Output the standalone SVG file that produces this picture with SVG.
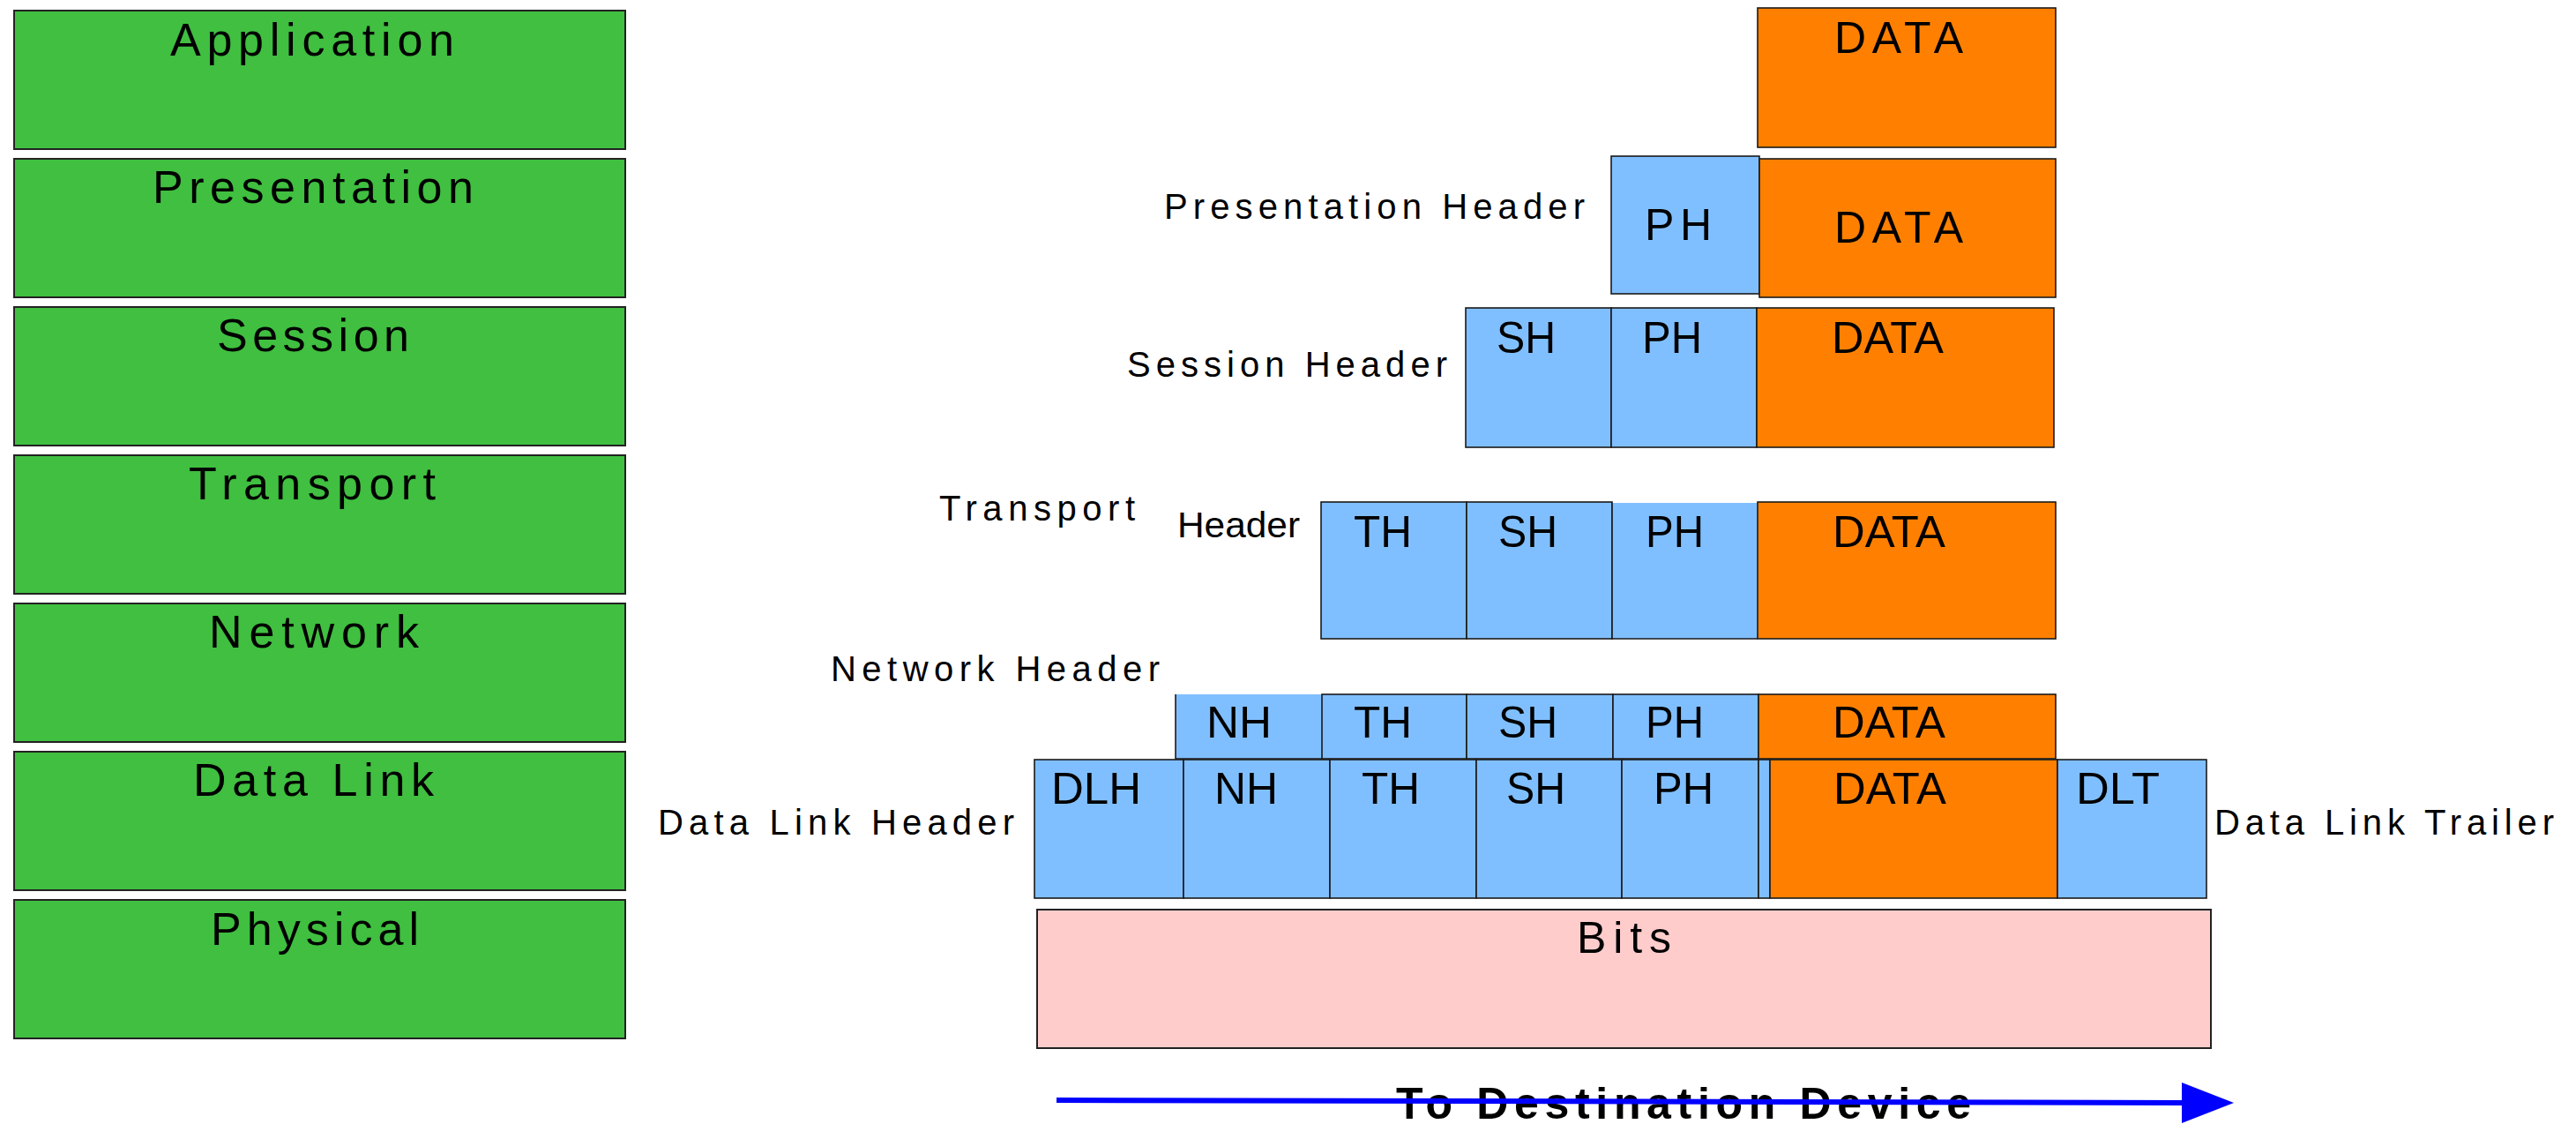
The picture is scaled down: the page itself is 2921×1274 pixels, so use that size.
<svg xmlns="http://www.w3.org/2000/svg" width="2921" height="1274" viewBox="0 0 2921 1274">
<style>
.layer{fill:#40bf40;stroke:#222;stroke-width:2}
.hdr{fill:#80bfff;stroke:#1a1a1a;stroke-width:1.6}
.hdrf{fill:#80bfff;stroke:none}
.edge{fill:none;stroke:#1a1a1a;stroke-width:1.6}
.data{fill:#ff8000;stroke:#1a1a1a;stroke-width:1.6}
.bits{fill:#ffcccc;stroke:#222;stroke-width:2}
text{font-family:"Liberation Sans",Arial,sans-serif;fill:#000}
.lt{font-size:52px}
.bt{font-size:50px}
.lb{font-size:40px}
.dest{font-size:50px;font-weight:bold}
</style>
<defs/>
<g id="layers">
<g id="layer-application"><rect class="layer" x="16" y="12" width="693" height="157"/><text class="lt" x="193" y="63" textLength="322" lengthAdjust="spacing">Application</text></g>
<g id="layer-presentation"><rect class="layer" x="16" y="180" width="693" height="157"/><text class="lt" x="173" y="230" textLength="364" lengthAdjust="spacing">Presentation</text></g>
<g id="layer-session"><rect class="layer" x="16" y="348" width="693" height="157"/><text class="lt" x="246" y="398" textLength="218" lengthAdjust="spacing">Session</text></g>
<g id="layer-transport"><rect class="layer" x="16" y="516" width="693" height="157"/><text class="lt" x="214" y="566" textLength="280" lengthAdjust="spacing">Transport</text></g>
<g id="layer-network"><rect class="layer" x="16" y="684" width="693" height="157"/><text class="lt" x="237" y="734" textLength="238" lengthAdjust="spacing">Network</text></g>
<g id="layer-datalink"><rect class="layer" x="16" y="852" width="693" height="157"/><text class="lt" x="219" y="902" textLength="273" lengthAdjust="spacing">Data Link</text></g>
<g id="layer-physical"><rect class="layer" x="16" y="1020" width="693" height="157"/><text class="lt" x="239" y="1071" textLength="236" lengthAdjust="spacing">Physical</text></g>
</g>

<g id="row-application">
<rect class="data" x="1993" y="9" width="338" height="158"/>
<text class="bt" x="2080" y="60" textLength="146" lengthAdjust="spacing">DATA</text>
</g>

<g id="row-presentation">
<rect class="hdr" x="1827" y="177" width="168" height="156"/>
<rect class="data" x="1995" y="180" width="336" height="157"/>
<text class="bt" x="1865" y="272" textLength="76" lengthAdjust="spacing">PH</text>
<text class="bt" x="2080" y="275" textLength="146" lengthAdjust="spacing">DATA</text>
<text class="lb" x="1320" y="248" textLength="477" lengthAdjust="spacing">Presentation Header</text>
</g>

<g id="row-session">
<rect class="hdr" x="1662" y="349" width="165" height="158"/>
<rect class="hdr" x="1827" y="349" width="165" height="158"/>
<rect class="data" x="1992" y="349" width="337" height="158"/>
<text class="bt" x="1697" y="400" textLength="67" lengthAdjust="spacingAndGlyphs">SH</text>
<text class="bt" x="1862" y="400" textLength="68" lengthAdjust="spacingAndGlyphs">PH</text>
<text class="bt" x="2077" y="400" textLength="127" lengthAdjust="spacingAndGlyphs">DATA</text>
<text class="lb" x="1278" y="427" textLength="363" lengthAdjust="spacing">Session Header</text>
</g>

<g id="row-transport">
<rect class="hdr" x="1498" y="569" width="165" height="155"/>
<rect class="hdr" x="1663" y="569" width="165" height="155"/>
<rect class="hdrf" x="1828" y="570" width="165" height="154"/>
<path class="edge" d="M1828,570 V724 H1993"/>
<rect class="data" x="1993" y="569" width="338" height="155"/>
<text class="bt" x="1535" y="620" textLength="66" lengthAdjust="spacingAndGlyphs">TH</text>
<text class="bt" x="1699" y="620" textLength="67" lengthAdjust="spacingAndGlyphs">SH</text>
<text class="bt" x="1866" y="620" textLength="66" lengthAdjust="spacingAndGlyphs">PH</text>
<text class="bt" x="2078" y="620" textLength="128" lengthAdjust="spacingAndGlyphs">DATA</text>
<text class="lb" x="1065" y="590" textLength="222" lengthAdjust="spacing">Transport</text>
<text class="lb" x="1335" y="609" textLength="139" lengthAdjust="spacingAndGlyphs">Header</text>
</g>

<g id="row-network">
<rect class="hdrf" x="1333" y="787" width="166" height="73"/>
<path class="edge" d="M1333,787 V860 H1499"/>
<rect class="hdr" x="1499" y="787" width="164" height="73"/>
<rect class="hdr" x="1663" y="787" width="166" height="73"/>
<rect class="hdr" x="1829" y="787" width="165" height="73"/>
<rect class="data" x="1994" y="787" width="337" height="73"/>
<text class="bt" x="1368" y="836" textLength="74" lengthAdjust="spacingAndGlyphs">NH</text>
<text class="bt" x="1535" y="836" textLength="66" lengthAdjust="spacingAndGlyphs">TH</text>
<text class="bt" x="1699" y="836" textLength="67" lengthAdjust="spacingAndGlyphs">SH</text>
<text class="bt" x="1866" y="836" textLength="66" lengthAdjust="spacingAndGlyphs">PH</text>
<text class="bt" x="2078" y="836" textLength="128" lengthAdjust="spacingAndGlyphs">DATA</text>
<text class="lb" x="942" y="772" textLength="373" lengthAdjust="spacing">Network Header</text>
</g>

<g id="row-datalink">
<rect class="hdr" x="1173" y="861" width="169" height="157"/>
<rect class="hdr" x="1342" y="861" width="166" height="157"/>
<rect class="hdr" x="1508" y="861" width="166" height="157"/>
<rect class="hdr" x="1674" y="861" width="165" height="157"/>
<rect class="hdr" x="1839" y="861" width="155" height="157"/>
<rect class="hdr" x="1994" y="861" width="13" height="157"/>
<rect class="data" x="2007" y="861" width="326" height="157"/>
<rect class="hdr" x="2333" y="861" width="169" height="157"/>
<text class="bt" x="1192" y="911" textLength="102" lengthAdjust="spacingAndGlyphs">DLH</text>
<text class="bt" x="1377" y="911" textLength="72" lengthAdjust="spacingAndGlyphs">NH</text>
<text class="bt" x="1544" y="911" textLength="66" lengthAdjust="spacingAndGlyphs">TH</text>
<text class="bt" x="1708" y="911" textLength="67" lengthAdjust="spacingAndGlyphs">SH</text>
<text class="bt" x="1875" y="911" textLength="68" lengthAdjust="spacingAndGlyphs">PH</text>
<text class="bt" x="2079" y="911" textLength="128" lengthAdjust="spacingAndGlyphs">DATA</text>
<text class="bt" x="2354" y="911" textLength="95" lengthAdjust="spacingAndGlyphs">DLT</text>
<text class="lb" x="746" y="946" textLength="404" lengthAdjust="spacing">Data Link Header</text>
<text class="lb" x="2511" y="946" textLength="385" lengthAdjust="spacing">Data Link Trailer</text>
</g>

<g id="row-physical">
<rect class="bits" x="1176" y="1031" width="1331" height="157"/>
<text class="bt" x="1788" y="1080" textLength="107" lengthAdjust="spacing">Bits</text>
</g>

<g id="direction-label">
<text class="dest" x="1583" y="1268" textLength="652" lengthAdjust="spacing">To Destination Device</text>
</g>

<g id="connectors">
<line x1="1198" y1="1247" x2="2478" y2="1250" stroke="#0000ff" stroke-width="6"/>
<polygon points="2474,1227 2533,1250 2474,1273" fill="#0000ff"/>
</g>
</svg>
